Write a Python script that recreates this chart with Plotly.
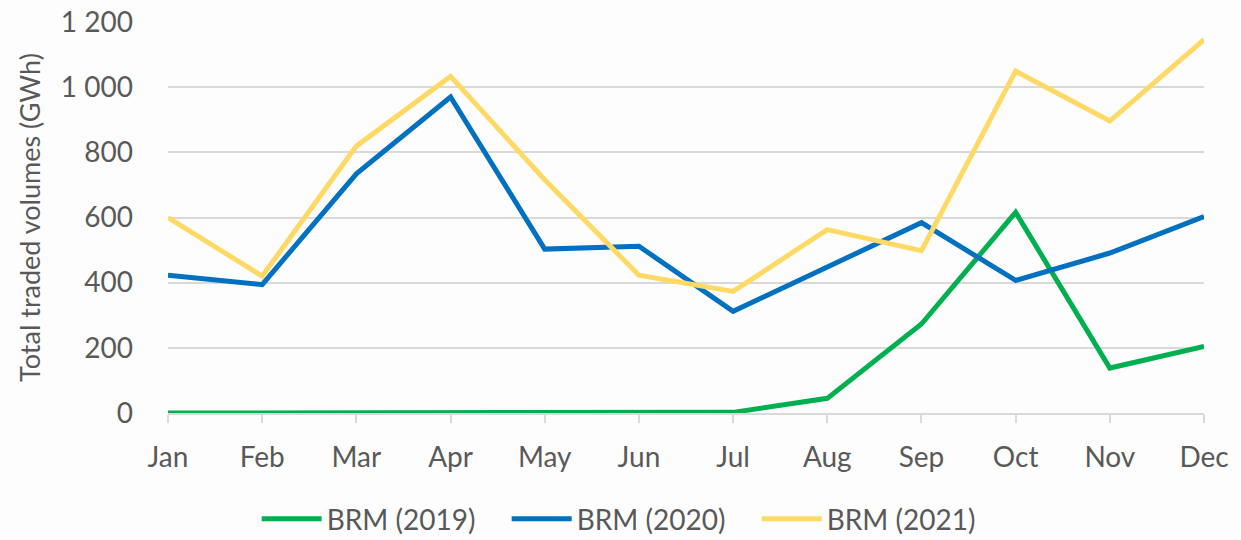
import plotly.graph_objects as go

months = ["Jan", "Feb", "Mar", "Apr", "May", "Jun", "Jul", "Aug", "Sep", "Oct", "Nov", "Dec"]
brm_2019 = [0, 0, 0, 2, 0, 0, 2, 45, 273, 616, 138, 204]
brm_2020 = [423, 394, 734, 970, 503, 512, 312, 447, 584, 407, 491, 603]
brm_2021 = [600, 420, 819, 1033, 716, 423, 373, 563, 498, 1049, 896, 1146]
series_names = ["BRM (2019)", "BRM (2020)", "BRM (2021)"]
y_ticks = [0, 200, 400, 600, 800, 1000, 1200]
y_tick_labels = ["0", "200", "400", "600", "800", "1 000", "1 200"]

colors = ["#00B050", "#0070C0", "#FFD966"]
FONT = "Lato, 'Open Sans', sans-serif"
GREY = "#595959"
FS = 28

fig = go.Figure()
xs = list(range(len(months)))
for name, vals, col in zip(series_names, [brm_2019, brm_2020, brm_2021], colors):
    fig.add_trace(go.Scatter(x=xs, y=vals, mode="lines", name=name,
                             line=dict(color=col, width=5)))

fig.update_layout(
    width=1241, height=540,
    margin=dict(l=168, r=37, t=22, b=127),
    paper_bgcolor="#FDFDFD", plot_bgcolor="#FDFDFD",
    font=dict(family=FONT, color=GREY, size=FS),
    showlegend=True,
    legend=dict(orientation="h", xref="container", yref="container",
                x=0.509, xanchor="center", y=0.039, yanchor="middle",
                font=dict(size=FS, color=GREY), itemwidth=60, traceorder="normal",
                entrywidth=175, entrywidthmode="pixels",
                bgcolor="rgba(0,0,0,0)"),
)
fig.update_xaxes(
    range=[0, 11], tickvals=xs, ticktext=months,
    showgrid=False, zeroline=False,
    showline=True, linecolor="#D9D9D9", linewidth=1.5,
    ticks="outside", ticklen=8, tickcolor="#D9D9D9", tickwidth=1.5,
    ticklabelstandoff=11,
    tickfont=dict(size=FS, color=GREY, family=FONT),
    automargin=False,
)
fig.update_yaxes(
    range=[0, 1200], tickvals=y_ticks, ticktext=y_tick_labels,
    showgrid=True, gridcolor="#D9D9D9", gridwidth=1.5,
    zeroline=False, showline=False,
    ticks="", ticklabelstandoff=34,
    tickfont=dict(size=FS, color=GREY, family=FONT),
    title=dict(text="Total traded volumes (GWh)", font=dict(size=27, color=GREY, family=FONT), standoff=12),
    automargin=False,
)

fig.write_html("out.html", config={"displayModeBar": False},
               post_script="document.body.style.margin='0';document.body.style.padding='0';")
